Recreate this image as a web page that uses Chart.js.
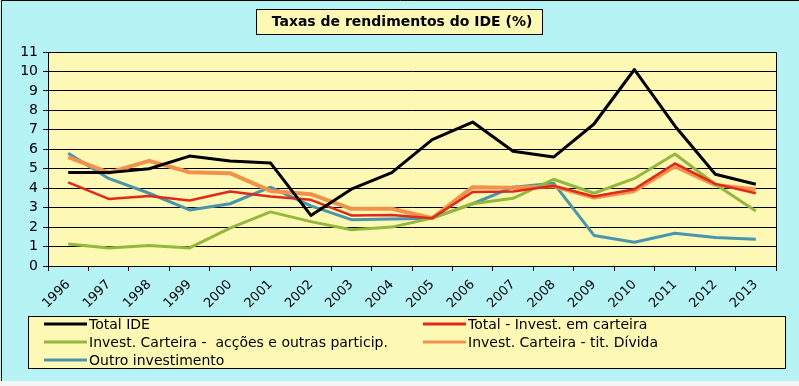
<!DOCTYPE html>
<html>
<head>
<meta charset="utf-8">
<script src="https://cdn.jsdelivr.net/npm/chart.js@4.4.0/dist/chart.umd.min.js"></script>
<style>
  body { margin: 0; background: #f4f4f4; }
  #grafico { display: block; }
</style>
</head>
<body>
<canvas id="grafico" width="799" height="386"></canvas>
<script>
// dados
const anos = ['1996', '1997', '1998', '1999', '2000', '2001', '2002', '2003', '2004',
              '2005', '2006', '2007', '2008', '2009', '2010', '2011', '2012', '2013'];
const totalIDE = [4.8, 4.8, 5.0, 5.65, 5.4, 5.3, 2.6, 3.95, 4.8, 6.5, 7.4, 5.9, 5.6, 7.3, 10.1, 7.2, 4.72, 4.2];
const totalCarteira = [4.3, 3.45, 3.6, 3.37, 3.83, 3.57, 3.4, 2.6, 2.62, 2.46, 3.8, 3.83, 4.12, 3.57, 3.95, 5.27, 4.22, 3.74];
const carteiraAccoes = [1.13, 0.93, 1.06, 0.93, 1.95, 2.78, 2.28, 1.86, 2.0, 2.46, 3.2, 3.48, 4.46, 3.74, 4.5, 5.76, 4.2, 2.83];
const carteiraDivida = [5.6, 4.8, 5.4, 4.82, 4.77, 3.86, 3.69, 2.94, 2.94, 2.46, 4.05, 4.02, 4.1, 3.52, 3.86, 5.12, 4.17, 3.93];
const outroInvest = [5.8, 4.5, 3.74, 2.88, 3.2, 4.05, 3.09, 2.38, 2.41, 2.46, 3.2, 4.05, 4.26, 1.57, 1.22, 1.68, 1.46, 1.37];
const yTicks = [0, 1, 2, 3, 4, 5, 6, 7, 8, 9, 10, 11];

const fonte = "'DejaVu Sans', sans-serif";
const azul = '#b6f3f5';
const amarelo = '#fdf8b4';

// fundo, caixa do titulo e moldura
const fundoPlugin = {
  id: 'fundo',
  beforeDraw(chart) {
    const ctx = chart.ctx;
    const a = chart.chartArea;
    ctx.save();
    ctx.fillStyle = '#f4f4f4';
    ctx.fillRect(0, 0, chart.width, chart.height);
    ctx.fillStyle = azul;
    ctx.fillRect(0, 0, chart.width, 381);
    ctx.strokeStyle = '#000';
    ctx.lineWidth = 1;
    ctx.beginPath();
    ctx.moveTo(1.5, 381);
    ctx.lineTo(1.5, 0.5);
    ctx.lineTo(chart.width, 0.5);
    ctx.stroke();
    ctx.fillStyle = amarelo;
    ctx.fillRect(a.left, a.top, a.right - a.left, a.bottom - a.top);

    // titulo
    ctx.fillStyle = amarelo;
    ctx.fillRect(256, 9, 286, 25);
    ctx.strokeRect(256.5, 9.5, 286, 25);
    ctx.fillStyle = '#000';
    ctx.font = 'bold 14px ' + fonte;
    ctx.textAlign = 'center';
    ctx.textBaseline = 'middle';
    ctx.fillText('Taxas de rendimentos do IDE (%)', 402, 22);
    ctx.restore();
  },
  afterDraw(chart) {
    const ctx = chart.ctx;
    const a = chart.chartArea;
    ctx.save();
    ctx.strokeStyle = '#000';
    ctx.lineWidth = 1;
    ctx.beginPath();
    ctx.moveTo(a.left, Math.round(a.top) + 0.5);
    ctx.lineTo(Math.round(a.right) + 0.5, Math.round(a.top) + 0.5);
    ctx.lineTo(Math.round(a.right) + 0.5, a.bottom + 5);
    ctx.stroke();

    // legenda em duas colunas
    ctx.fillStyle = amarelo;
    ctx.fillRect(28, 316, 757, 52);
    ctx.strokeRect(28.5, 316.5, 757, 52);
    const colX = [44, 423];
    const linhaY = [324, 342, 360];
    ctx.font = '14px ' + fonte;
    ctx.textAlign = 'left';
    ctx.textBaseline = 'middle';
    chart.data.datasets.forEach((ds, i) => {
      const x = colX[i % 2];
      const y = linhaY[Math.floor(i / 2)];
      ctx.strokeStyle = ds.borderColor;
      ctx.lineWidth = 3;
      ctx.beginPath();
      ctx.moveTo(x, y);
      ctx.lineTo(x + 43, y);
      ctx.stroke();
      ctx.fillStyle = '#000';
      ctx.fillText(ds.label, x + 45, y + 1);
    });
    ctx.restore();
  }
};

Chart.defaults.font.family = fonte;
Chart.defaults.color = '#000';

const ctx = document.getElementById('grafico').getContext('2d');

new Chart(ctx, {
  type: 'line',
  data: {
    labels: anos,
    datasets: [
      { label: 'Total IDE', data: totalIDE, borderColor: '#000000', borderWidth: 3 },
      { label: 'Total - Invest. em carteira', data: totalCarteira, borderColor: '#e2281a', borderWidth: 2.5 },
      { label: 'Invest. Carteira -  acções e outras particip.', data: carteiraAccoes, borderColor: '#94b83c', borderWidth: 3 },
      { label: 'Invest. Carteira - tit. Dívida', data: carteiraDivida, borderColor: '#f2914a', borderWidth: 4 },
      { label: 'Outro investimento', data: outroInvest, borderColor: '#4896ad', borderWidth: 3 }
    ]
  },
  options: {
    responsive: false,
    animation: false,
    events: [],
    layout: {
      padding: { left: 0, top: 52, right: 23, bottom: 60 }
    },
    elements: {
      point: { radius: 0 },
      line: { tension: 0, borderJoinStyle: 'round', borderCapStyle: 'butt' }
    },
    scales: {
      x: {
        offset: true,
        afterFit(scale) { scale.height = 60; },
        grid: { display: true, drawOnChartArea: false, offset: true, color: '#000', tickLength: 5 },
        border: { color: '#000' },
        ticks: { minRotation: 45, maxRotation: 45, padding: 6, font: { size: 13 }, autoSkip: false }
      },
      y: {
        min: 0,
        max: 11,
        afterFit(scale) { scale.width = 48; },
        afterBuildTicks(scale) { scale.ticks = yTicks.map(v => ({ value: v })); },
        grid: { color: '#000', tickLength: 5 },
        border: { color: '#000' },
        ticks: { stepSize: 1, autoSkip: false, padding: 5, font: { size: 14 } }
      }
    },
    plugins: {
      legend: { display: false },
      title: { display: false },
      tooltip: { enabled: false }
    }
  },
  plugins: [fundoPlugin]
});
</script>
</body>
</html>
